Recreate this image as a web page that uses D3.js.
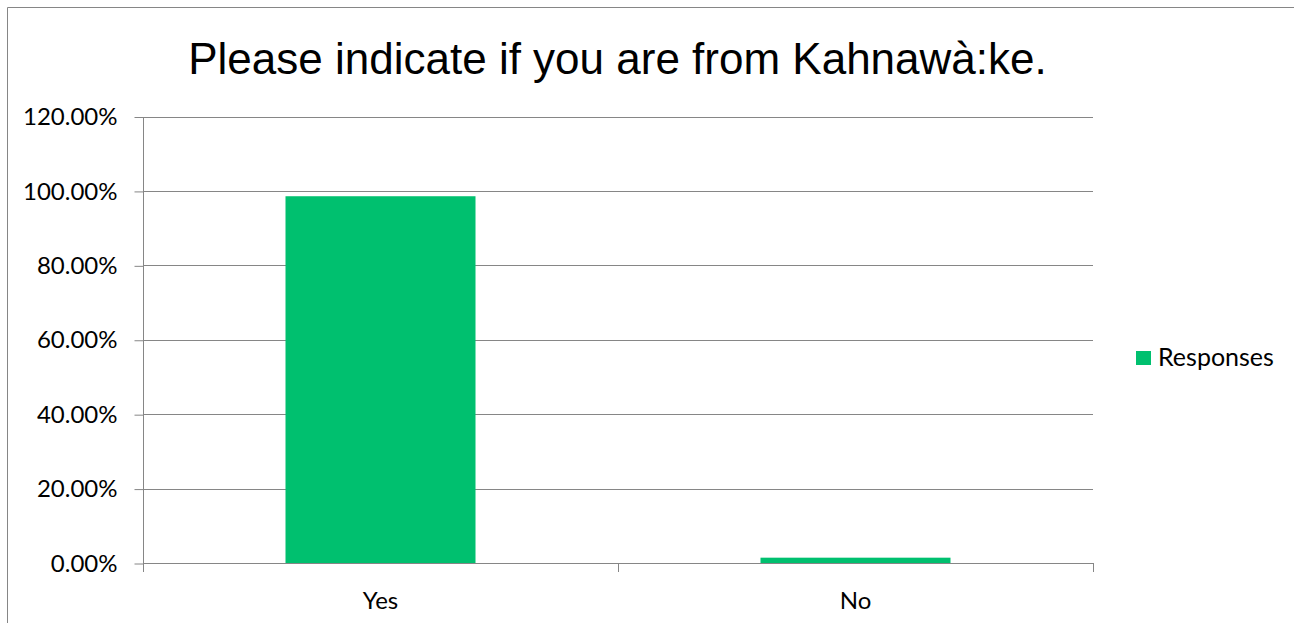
<!DOCTYPE html>
<html lang="en">
<head>
<meta charset="utf-8">
<title>Please indicate if you are from Kahnawà:ke.</title>
<script src="https://cdn.jsdelivr.net/npm/d3@7"></script>
<style>
  html, body { margin: 0; background: #fff; overflow: hidden; }
  svg { display: block; }
  .axis text { font-family: Lato, "Open Sans", sans-serif; font-size: 24px; fill: #000; }
  .axis path, .axis line { stroke: #868686; }
</style>
</head>
<body>
<script>
// chart data
var categories = ["Yes", "No"];
var responses = [0.9857, 0.0143];
var yTicks = [0, 0.2, 0.4, 0.6, 0.8, 1.0, 1.2];
var seriesName = "Responses";
var titleText = "Please indicate if you are from Kahnawà:ke.";

var width = 1294, height = 623;
var plotLeft = 143, plotRight = 1093, plotTop = 116.5, plotBottom = 563;
var green = "#00c06f";

var svg = d3.select("body").append("svg")
  .attr("width", width)
  .attr("height", height);

// outer chart frame: only the left and top edges show
svg.append("path")
  .attr("d", "M7.5," + height + "V7.5H" + width)
  .attr("fill", "none")
  .attr("stroke", "#868686");

// title
svg.append("text")
  .attr("x", 617.5).attr("y", 74)
  .attr("text-anchor", "middle")
  .style("font-family", "'Liberation Sans', Arial, sans-serif")
  .style("font-size", "44px")
  .text(titleText);

var y = d3.scaleLinear().domain([0, 1.2]).range([plotBottom, plotTop]);
var x = d3.scaleBand().domain(categories).range([plotLeft, plotRight])
  .paddingInner(0.6).paddingOuter(0.3);

// gridlines
svg.append("g").selectAll("line")
  .data(yTicks.slice(1))
  .enter().append("line")
  .attr("x1", plotLeft).attr("x2", plotRight)
  .attr("y1", function(d) { return Math.round(y(d)) + 0.5; })
  .attr("y2", function(d) { return Math.round(y(d)) + 0.5; })
  .attr("stroke", "#868686");

// bars
svg.append("g").selectAll("rect")
  .data(responses)
  .enter().append("rect")
  .attr("x", function(d, i) { return x(categories[i]); })
  .attr("width", x.bandwidth())
  .attr("y", function(d) { return y(d); })
  .attr("height", function(d) { return y(0) - y(d); })
  .attr("fill", green);

// y axis
var yAxis = d3.axisLeft(y).tickValues(yTicks).tickFormat(d3.format(".2%"))
  .tickSize(9).tickPadding(17);
svg.append("g")
  .attr("class", "axis")
  .attr("transform", "translate(" + (plotLeft + 0.5) + ",0.5)")
  .call(yAxis)
  .call(function(g) { g.select(".domain").attr("d", "M0," + y(1.2) + "V" + (plotBottom + 8)); });

// x axis labels
var xAxis = d3.axisBottom(x).tickSize(0).tickPadding(28);
svg.append("g")
  .attr("class", "axis")
  .attr("transform", "translate(0," + (plotBottom + 0.5) + ")")
  .call(xAxis)
  .call(function(g) { g.select(".domain").remove(); });

// x axis line and boundary ticks
var bounds = d3.range(categories.length + 1).map(function(i) { return plotLeft + i * x.step(); });
svg.append("line")
  .attr("x1", plotLeft).attr("x2", plotRight)
  .attr("y1", plotBottom + 0.5).attr("y2", plotBottom + 0.5)
  .attr("stroke", "#868686");
svg.append("g").selectAll("line")
  .data(bounds)
  .enter().append("line")
  .attr("x1", function(d) { return d + 0.5; }).attr("x2", function(d) { return d + 0.5; })
  .attr("y1", plotBottom).attr("y2", plotBottom + 9)
  .attr("stroke", "#868686");

// legend
var legend = svg.append("g").attr("transform", "translate(1136,351)");
legend.append("rect")
  .attr("width", 15).attr("height", 14)
  .attr("fill", green);
legend.append("text")
  .attr("x", 22).attr("y", 15)
  .style("font-family", "Lato, 'Open Sans', sans-serif")
  .style("font-size", "25px")
  .text(seriesName);
</script>
</body>
</html>
